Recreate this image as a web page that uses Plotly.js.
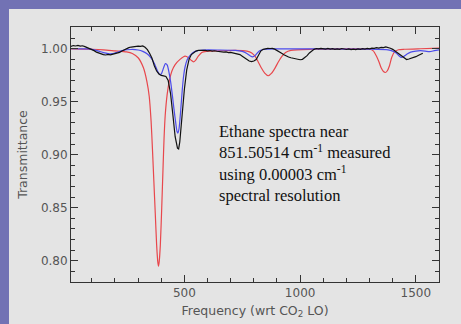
<!DOCTYPE html>
<html>
<head>
<meta charset="utf-8">
<script src="https://cdn.plot.ly/plotly-3.0.1.min.js"></script>
<style>
html,body{margin:0;padding:0;width:461px;height:324px;background:#7272b4;overflow:hidden;}
#chart{position:absolute;left:9px;top:9px;width:452px;height:315px;}
</style>
</head>
<body>
<div id="chart"></div>
<script>
// Measured (black, noisy) spectrum
const measuredX = [10,20,30,40,50,60,70,80,90,100,110,120,130,140,150,160,170,180,190,200,
210,220,230,240,250,260,270,280,290,300,310,320,330,340,350,360,370,380,390,400,
410,420,430,440,450,460,470,475,480,490,500,510,520,530,540,550,560,570,580,590,
600,610,620,630,640,650,660,670,680,690,700,710,720,730,740,750,760,770,780,790,
800,810,820,830,840,850,860,870,880,890,900,910,920,930,940,950,960,970,980,990,
1000,1010,1020,1030,1040,1050,1060,1070,1080,1090,1100,1110,1120,1130,1140,1150,1160,1170,1180,1190,
1200,1210,1220,1230,1240,1250,1260,1270,1280,1290,1300,1310,1320,1330,1340,1350,1360,1370,1380,1390,
1400,1410,1420,1430,1440,1450,1460,1470,1480,1490,1500,1510,1520,1530];
const measuredY = [1.0022,1.0030,1.0026,1.0031,1.0024,1.0028,1.0020,1.0012,1.0004,0.9995,0.9982,0.9968,0.9958,0.9950,0.9944,0.9941,0.9946,0.9942,0.9948,0.9952,
0.9958,0.9966,0.9978,0.9990,1.0002,1.0010,1.0016,1.0020,1.0018,1.0024,1.0022,1.0026,1.0014,0.9992,0.9955,0.9910,0.9840,0.9790,0.9762,0.9748,
0.9744,0.9738,0.9700,0.9580,0.9380,0.9170,0.9062,0.9055,0.9120,0.9390,0.9620,0.9800,0.9900,0.9945,0.9965,0.9978,0.9984,0.9986,0.9982,0.9985,
0.9980,0.9983,0.9978,0.9981,0.9976,0.9972,0.9975,0.9968,0.9970,0.9964,0.9966,0.9960,0.9958,0.9950,0.9945,0.9930,0.9912,0.9896,0.9884,0.9878,
0.9884,0.9898,0.9940,0.9978,0.9994,1.0000,1.0004,1.0002,1.0003,0.9996,0.9985,0.9972,0.9958,0.9944,0.9930,0.9922,0.9915,0.9910,0.9906,0.9898,
0.9896,0.9900,0.9915,0.9935,0.9960,0.9980,0.9994,1.0002,0.9998,1.0004,1.0000,0.9996,1.0003,0.9997,1.0001,0.9995,0.9999,0.9994,1.0002,0.9996,
0.9993,0.9998,0.9991,0.9996,0.9992,0.9999,0.9994,1.0001,0.9997,1.0004,0.9999,1.0006,1.0003,1.0010,1.0006,1.0012,1.0010,1.0017,1.0014,1.0005,
0.9994,0.9978,0.9962,0.9946,0.9928,0.9910,0.9898,0.9903,0.9908,0.9916,0.9925,0.9936,0.9948,0.9958];

// Model 1 (blue)
const blueX = [10,80,110,130,150,170,187,205,230,270,300,320,340,355,368,380,388,395,402,410,
418,426,434,441,448,455,462,468,472,477,484,491,497,503,512,522,535,550,580,650,
720,750,770,785,795,805,815,827,850,900,1000,1100,1200,1300,1380,1400,1415,1428,1438,1448,
1462,1478,1500,1520,1540,1560,1580,1600];
const blueY = [1.0000,0.9998,0.9990,0.9978,0.9963,0.9954,0.9953,0.9964,0.9982,0.9993,0.9988,0.9975,0.9950,0.9915,0.9870,0.9810,0.9772,0.9755,0.9770,0.9820,
0.9860,0.9845,0.9770,0.9680,0.9560,0.9430,0.9310,0.9220,0.9205,0.9250,0.9420,0.9620,0.9750,0.9830,0.9895,0.9930,0.9960,0.9978,0.9988,0.9988,
0.9985,0.9975,0.9955,0.9932,0.9924,0.9935,0.9960,0.9983,0.9995,0.9998,0.9998,0.9998,0.9997,0.9996,0.9990,0.9978,0.9960,0.9932,0.9918,0.9928,
0.9950,0.9968,0.9978,0.9982,0.9978,0.9972,0.9982,0.9990];

// Model 2 (red)
const redX = [10,100,150,200,250,275,300,323,338,348,356,362,368,374,380,385,388,391,396,402,
408,412,417,425,435,446,460,481,503,518,530,539,548,560,575,595,650,720,770,791,
805,818,832,847,862,877,892,907,922,937,960,1050,1200,1300,1316,1330,1340,1350,1360,1368,
1376,1386,1396,1408,1425,1450,1520,1600];
const redY = [0.9998,0.9995,0.9990,0.9980,0.9970,0.9955,0.9915,0.9820,0.9690,0.9550,0.9320,0.9050,0.8750,0.8450,0.8150,0.7990,0.7950,0.7990,0.8150,0.8500,
0.8900,0.9150,0.9370,0.9560,0.9700,0.9790,0.9850,0.9900,0.9930,0.9915,0.9890,0.9877,0.9890,0.9930,0.9965,0.9975,0.9980,0.9985,0.9978,0.9960,
0.9930,0.9880,0.9820,0.9770,0.9745,0.9770,0.9820,0.9880,0.9930,0.9965,0.9985,0.9995,0.9998,0.9995,0.9980,0.9930,0.9880,0.9820,0.9785,0.9776,
0.9790,0.9840,0.9920,0.9970,0.9990,0.9995,1.0000,1.0005];

const xTickVals = [500,1000,1500];
const xTickText = ['500','1000','1500'];
const yTickVals = [0.80,0.85,0.90,0.95,1.00];
const yTickText = ['0.80','0.85','0.90','0.95','1.00'];

const traces = [
  {x: redX, y: redY, type:'scatter', mode:'lines', line:{color:'#e8474c', width:1.2, shape:'spline', smoothing:0.6}, hoverinfo:'skip'},
  {x: blueX, y: blueY, type:'scatter', mode:'lines', line:{color:'#4c4ceb', width:1.2, shape:'spline', smoothing:0.6}, hoverinfo:'skip'},
  {x: measuredX, y: measuredY, type:'scatter', mode:'lines', line:{color:'#111111', width:1.2}, hoverinfo:'skip'}
];

const axisFont = {family:'DejaVu Sans, sans-serif', size:12, color:'#555555'};
const titleFont = {family:'DejaVu Sans, sans-serif', size:12.5, color:'#555555'};
const layout = {
  width:452, height:315,
  margin:{l:62, r:22, t:18, b:42},
  paper_bgcolor:'#e4e4e4',
  plot_bgcolor:'#e4e4e4',
  showlegend:false,
  xaxis:{
    range:[10,1600], showgrid:false, zeroline:false,
    showline:true, linecolor:'#333333', linewidth:1, mirror:'ticks',
    ticks:'inside', ticklen:7, tickcolor:'#333333', tickwidth:1,
    tickvals:xTickVals, ticktext:xTickText, tickfont:axisFont,
    minor:{dtick:100, tick0:0, ticks:'inside', ticklen:4, tickcolor:'#333333', showgrid:false},
    title:{text:'Frequency (wrt CO<sub>2</sub> LO)', font:titleFont, standoff:6}
  },
  yaxis:{
    range:[0.78,1.0205], showgrid:false, zeroline:false,
    showline:true, linecolor:'#333333', linewidth:1, mirror:'ticks',
    ticks:'inside', ticklen:7, tickcolor:'#333333', tickwidth:1,
    tickvals:yTickVals, ticktext:yTickText, tickfont:axisFont,
    minor:{dtick:0.01, tick0:0.8, ticks:'inside', ticklen:4, tickcolor:'#333333', showgrid:false},
    title:{text:'Transmittance', font:titleFont, standoff:10}
  },
  annotations:[{
    xref:'x', yref:'y', x:642, y:0.8918, xanchor:'left', yanchor:'middle', align:'left',
    showarrow:false,
    text:'Ethane spectra near<br>851.50514 cm<sup>-1</sup> measured<br>using 0.00003 cm<sup>-1</sup><br>spectral resolution',
    font:{family:'Liberation Serif, Times New Roman, serif', size:16.5, color:'#111111'}
  }]
};

Plotly.newPlot('chart', traces, layout, {staticPlot:true, displayModeBar:false});
</script>
</body>
</html>
